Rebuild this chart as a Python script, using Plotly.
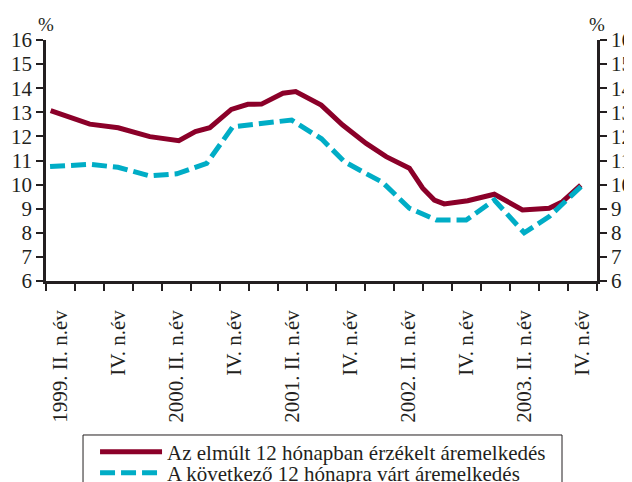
import plotly.graph_objects as go

# quarter-unit positions (0 = start of 1999 Q2, 19 = end of 2003 Q4)
x_red = [0.16, 1.51, 2.49, 3.58, 4.58, 5.15, 5.65, 6.39, 6.96, 7.43, 8.17, 8.61, 9.49,
         10.23, 11.04, 11.73, 12.53, 12.99, 13.39, 13.73, 14.54, 15.46, 16.43, 17.35,
         17.81, 18.44]
y_red = [13.07, 12.51, 12.36, 11.99, 11.82, 12.20, 12.36, 13.12, 13.33, 13.34, 13.79,
         13.86, 13.30, 12.47, 11.71, 11.16, 10.68, 9.85, 9.36, 9.20, 9.33, 9.60, 8.95,
         9.02, 9.29, 9.98]

x_cyan = [0.14, 1.51, 2.48, 3.58, 4.51, 5.54, 6.44, 7.37, 8.47, 9.50, 10.29, 11.05,
          11.60, 12.53, 13.46, 14.49, 15.46, 16.49, 17.35, 18.45]
y_cyan = [10.75, 10.84, 10.72, 10.36, 10.45, 10.88, 12.40, 12.54, 12.68, 11.90, 10.95,
          10.45, 10.10, 9.02, 8.53, 8.53, 9.36, 8.00, 8.67, 9.92]

label_pos = [0.5, 2.5, 4.5, 6.5, 8.5, 10.5, 12.5, 14.5, 16.5, 18.5]
label_text = ["1999. II. n.év", "IV. n.év", "2000. II. n.év", "IV. n.év",
              "2001. II. n.év", "IV. n.év", "2002. II. n.év", "IV. n.év",
              "2003. II. n.év", "IV. n.év"]
boundaries = list(range(20))
y_ticks = list(range(6, 17))

name_red = "Az elmúlt 12 hónapban érzékelt áremelkedés"
name_cyan = "A következő 12 hónapra várt áremelkedés"

FONT = "Liberation Serif"
INK = "#231f20"

fig = go.Figure()
fig.add_trace(go.Scatter(x=x_red, y=y_red, mode="lines", name=name_red,
                         legend="legend",
                         line=dict(color="#8b0029", width=5)))
fig.add_trace(go.Scatter(x=x_cyan, y=y_cyan, mode="lines", name=name_cyan,
                         legend="legend2",
                         line=dict(color="#00adc6", width=5, dash="15px,6px")))
fig.add_trace(go.Scatter(x=[None], y=[None], yaxis="y2", showlegend=False,
                         hoverinfo="skip"))

yax = dict(range=[6, 16], tickmode="array", tickvals=y_ticks, ticks="outside",
           ticklen=7, tickwidth=2, tickcolor=INK, showline=True, linewidth=2.5,
           linecolor=INK, showgrid=False, zeroline=False, automargin=False,
           tickfont=dict(family=FONT, size=21, color=INK))

leg = dict(xanchor="left", yanchor="middle", bgcolor="rgba(0,0,0,0)",
           borderwidth=0, font=dict(family=FONT, size=21, color=INK),
           itemwidth=62)

fig.update_layout(
    width=624, height=474,
    margin=dict(l=38, r=35, t=32, b=201, autoexpand=False),
    paper_bgcolor="white", plot_bgcolor="white",
    font=dict(family=FONT, size=21, color=INK),
    xaxis=dict(range=[0, 19], tickmode="array", tickvals=label_pos, ticktext=label_text,
               tickangle=-90, ticks="outside", ticklen=18, tickcolor="rgba(0,0,0,0)",
               showline=True, linewidth=2.5, linecolor=INK, showgrid=False,
               zeroline=False, automargin=False,
               tickfont=dict(family=FONT, size=21, color=INK),
               minor=dict(tickmode="array", tickvals=boundaries, ticks="outside",
                          ticklen=7, tickwidth=2, tickcolor=INK, showgrid=False)),
    yaxis=yax,
    yaxis2=dict(yax, overlaying="y", side="right"),
    legend=dict(leg, x=0.089, y=-0.7095),
    legend2=dict(leg, x=0.089, y=-0.797),
    showlegend=True,
    shapes=[dict(type="rect", xref="paper", yref="paper", x0=0.0672, x1=0.9365,
                 y0=-0.639, y1=-0.92, line=dict(color=INK, width=1),
                 fillcolor="rgba(0,0,0,0)", layer="below")],
    annotations=[
        dict(text="%", x=0, y=1, xref="paper", yref="paper", xanchor="center",
             yanchor="bottom", yshift=3, showarrow=False,
             font=dict(family=FONT, size=19, color=INK)),
        dict(text="%", x=1, y=1, xref="paper", yref="paper", xanchor="center",
             yanchor="bottom", yshift=3, showarrow=False,
             font=dict(family=FONT, size=19, color=INK)),
    ],
)

fig.write_html("out.html")
